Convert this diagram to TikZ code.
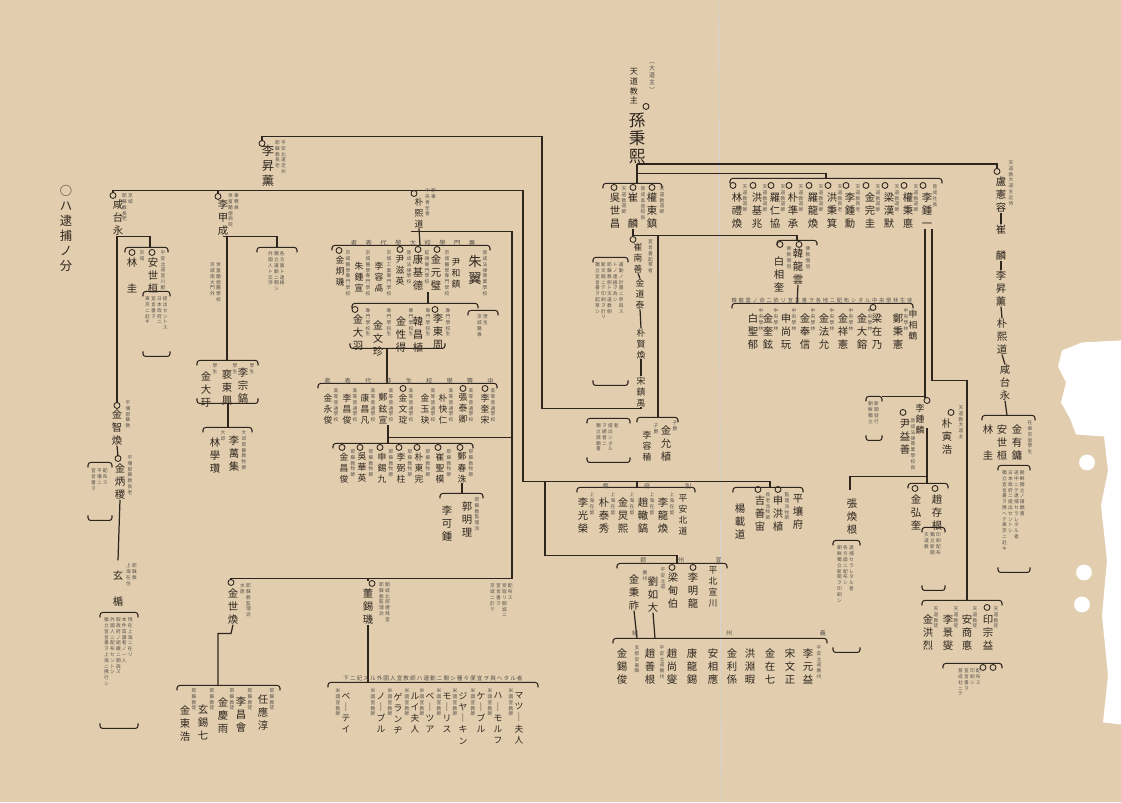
\documentclass[tikz,border=0pt]{standalone}
\usepackage{fontspec}
\setmainfont{Noto Sans CJK JP}
\usetikzlibrary{positioning,calc}
\definecolor{paper}{RGB}{226,206,175}
\definecolor{ink}{RGB}{46,37,30}
\makeatletter
\def\vt@one#1{\hbox to 1em{\hss#1\hss}}
\def\vt@loop#1{\ifx\relax#1\else\vt@one{#1}\expandafter\vt@loop\fi}
\newcommand\vtxt[1]{\edef\vt@l{#1}\vtop{\expandafter\vt@loop\vt@l\relax}}
\newcommand\vcols[1]{\hbox{\foreach \vt@c in {#1}{\vtxt{\vt@c}\hskip.7pt}}}
\def\hs@loop#1{\ifx\relax#1\else#1\hskip\vt@sep\relax\expandafter\hs@loop\fi}
\newcommand\hspread[2]{\edef\vt@l{#2}\def\vt@sep{#1}\expandafter\hs@loop\vt@l\relax}
\makeatother
% group brackets, note brackets and the small rings
\newcommand\grp[3]{\draw[brk] (#1,#3+5) -- (#1,#3) -- (#2,#3) -- (#2,#3+5);}
\newcommand\grpu[3]{\draw[brk] (#1,#3-5) -- (#1,#3) -- (#2,#3) -- (#2,#3-5);}
\newcommand\nbox[4]{\grp{#1}{#3}{#2}\grpu{#1}{#3}{#4}}
\newcommand\mk[2]{\draw[ink,line width=.5pt] (#1,#2) circle[radius=1.7pt];}

\begin{document}
\begin{tikzpicture}[x=0.02cm, y=-0.02cm,
nm/.style={inner sep=0pt, anchor=north, text=ink, font=\fontsize{5.9}{7.4}\selectfont},
sm/.style={nm, font=\fontsize{5}{6.3}\selectfont},
lg/.style={nm, font=\fontsize{7}{8.6}\selectfont},
bg/.style={nm, font=\fontsize{9.4}{10.2}\selectfont},
nt/.style={nm, text=ink!80, font=\fontsize{2.7}{3.3}\selectfont},
wire/.style={draw=ink, line width=0.7pt},
brk/.style={draw=ink, line width=0.6pt, rounded corners=1.5pt}
]
% paper
\fill[paper] (0,0) rectangle (1121,802);
\draw[ink!20, line width=0.5pt] (719,0) -- (721,802);
\fill[white] (1121,340) -- (1082,342) -- (1062,350) -- (1058,366) -- (1066,382) -- (1061,402) -- (1070,418) -- (1076,434) -- (1104,436) -- (1108,470) -- (1101,505) -- (1107,560) -- (1102,615) -- (1108,675) -- (1103,722) -- (1121,724) -- cycle;
\fill[white] (1087,462) circle[radius=4.5pt];
\fill[white] (1084,572) circle[radius=4.5pt];
\fill[white] (1082,604) circle[radius=4.5pt];

% title
\node[lg] (ttl) at (66,184) {\vtxt{○ハ逮捕ノ分}};

% head of the chart
\node[nt, font=\fontsize{3.4}{4}\selectfont] (sonN) at (652,62) {\vtxt{︵大道主︶}};
\node[nm, font=\fontsize{4.6}{5.5}\selectfont] (sonT) at (634,68) {\vtxt{天道教主}};
\mk{646}{106}
\node[bg] (son) at (637,112) {\vtxt{孫秉熙}};
\draw[wire] (son.south) -| (997,169);
\draw[wire] (son.south) -- (637,183);
\draw[wire] (637,173) -| (826,178);
\grp{603}{662}{183}
\grp{730}{942}{178}

% left group under the head
\mk{652}{187} \node[nm] (kdj) at (652,192) {\vtxt{權東鎮}};
\mk{633}{187} \node[nm] (crn) at (633,192) {\vtxt{崔　麟}};
\mk{614}{187} \node[nm] (oss) at (615,192) {\vtxt{吳世昌}};
\node[nt] (kdjN) at (662,186) {\vtxt{天道教道師}};
\node[nt] (crnN) at (643,186) {\vtxt{普成高普校長}};
\node[nt] (ossN) at (624,186) {\vtxt{天道教道師}};

% eleven of the Cheondogyo side
\foreach \x/\n/\t in {737/林禮煥/天道教道師, 757/洪基兆/天道教道師, 775/羅仁協/天道教道師, 793/朴準承/天道教道師, 813/羅龍煥/天道教道師, 832/洪秉箕/天道教長老, 850/李鍾勳/天道教長老, 870/金完圭/天道教道師, 889/梁漢默/天道教道師, 908/權秉悳/天道教道師, 927/李鍾一/普成社長} {
  \mk{\x-4}{185}
  \node[nm] (s\x) at (\x,192) {\vtxt{\n}};
  \node[nt] (sn\x) at (\x+8,184) {\vtxt{\t}};
}
\draw[wire] (925,229) -- (925,398);
\draw[wire] (932,229) -- (932,380) -- (967,380) -- (967,600);

% Buddhist side
\draw[wire] (crn.south) -- (633,235) -- (797,235) -- (797,240);
\draw[wire] (658,235) -- (658,417);
\grp{777}{817}{240}
\mk{780}{244} \node[nm] (bsg) at (779,256) {\vtxt{白相奎}};
\mk{799}{244} \node[nm] (hyw) at (798,248) {\vtxt{韓龍雲}};
\node[nt] (bsgN) at (789,246) {\vtxt{佛教僧侶}};
\node[nt] (hywN) at (808,246) {\vtxt{佛教僧侶}};
\draw[wire] (hyw.south) -- (797,303);
\grp{732}{913}{303}
\node[nt, font=\fontsize{3}{3.4}\selectfont] (budL) at (822,297) {\hspread{1pt}{韓龍雲ノ命ニ依リ宣言書ヲ各地ニ配布シタル中央學林生徒}};
\foreach \x/\n in {753/白聖郁, 768/金奎鉉, 786/申尚玩, 805/金奉信, 824/金法允, 843/金祥憲, 862/金大鎔, 898/鄭秉憲} {
  \node[nm] (b\x) at (\x,313) {\vtxt{\n}};
  \node[nt] (bn\x) at (\x+8,308) {\vtxt{中央學林}};
}
\mk{873}{307} \node[nm] (b876) at (877,313) {\vtxt{梁在乃}};
\node[sm] (b913) at (913,309) {\vtxt{申相鶴}};

% chain on the right edge
\mk{997}{171}
\node[nt] (roN) at (1011,160) {\vtxt{天道教大道主近侍}};
\node[nm] (ro) at (1001,176) {\vtxt{盧憲容}};
\node[nm] (cr2) at (1001,224) {\vtxt{崔　麟}};
\node[nm] (ls2) at (1001,270) {\vtxt{李昇薫}};
\node[nm] (ph2) at (1002,318) {\vtxt{朴熙道}};
\node[nm] (ht2) at (1005,364) {\vtxt{咸台永}};
\draw[wire] (ro.south) -- (cr2.north);
\draw[wire] (cr2.south) -- (ls2.north);
\draw[wire] (ls2.south) -- (ph2.north);
\draw[wire] (ph2.south) -- (ht2.north);
\draw[wire] (ht2.south) -- (1007,415);
\grp{982}{1035}{415}
\node[nm] (rg) at (988,424) {\vtxt{林　圭}};
\node[nm] (ra) at (1002,424) {\vtxt{安世桓}};
\node[nm] (rk) at (1017,424) {\vtxt{金有鏞}};
\node[nt] (rn) at (1030,420) {\vtxt{在東京留學生}};
\nbox{998}{465}{1030}{572}
\node[nt] (rnb) at (1014,470) {\vcols{獨立宣言書ヲ携ヘテ東京ニ赴キ,日本政府ニ提出セントシ,途中ニテ逮捕セラレタル者,朝鮮獨立ノ請願書}};

% Choe Nam-seon chain
\mk{633}{239}
\node[sm] (cns) at (638,242) {\vtxt{崔南善}};
\node[sm] (kdt) at (640,278) {\vtxt{金道泰}};
\node[sm] (phh) at (641,328) {\vtxt{朴賢煥}};
\node[sm] (sjw) at (641,376) {\vtxt{宋鎮禹}};
\draw[wire] (cns.south) -- (kdt.north);
\draw[wire] (kdt.south) -- (phh.north);
\draw[wire] (phh.south) -- (sjw.north);
\node[nt] (cnsN) at (651,239) {\vcols{宣言書起草者}};
\nbox{593}{257}{628}{385}
\node[nt] (cnsB) at (610,262) {\vcols{獨立宣言書ヲ起草シ,新文館ニテ印刷ヲ計リ,耶蘇教側ト天道教側,トノ連絡ヲ為シ,運動ノ計畫ニ參與ス}};

% Yi Seung-hun and the left side
\mk{262}{143}
\node[lg] (lsh) at (268,144) {\vtxt{李昇薰}};
\node[nt] (lshN) at (281,140) {\vcols{耶蘇教長老,平安北道定州}};
\draw[wire] (262,141) -- (262,136) -| (542,408) -| (sjw.south);
\draw[wire] (113,193) -- (113,190) -- (523,190) -- (523,481) -- (770,481) -- (770,487);
\draw[wire] (218,190) -- (218,194);

\mk{113}{195}
\node[nm] (htl) at (118,199) {\vtxt{咸台永}};
\node[nt] (htlN) at (128,193) {\vcols{耶蘇教長老,京城}};
\draw[wire] (117,236) -- (117,403);
\draw[wire] (117,236) -- (150,236) -- (150,247);
\grp{125}{168}{247}
\mk{132}{252} \node[nm] (lmk) at (132,257) {\vtxt{林　圭}};
\mk{152}{252} \node[nm] (ash) at (153,257) {\vtxt{安世桓}};
\node[nt] (ashN) at (163,250) {\vtxt{平安北道宣川郡}};
\node[nt] (lmkN) at (142,250) {\vtxt{京城}};
\nbox{143}{291}{170}{356}
\node[nt] (ashB) at (157,296) {\vcols{東京ニ赴キ,宣言書ヲ,日本政府ニ,提出セントス}};

\mk{117}{405} \node[nm] (kjh) at (117,409) {\vtxt{金智煥}};
\node[nt] (kjhN) at (128,400) {\vtxt{平壤耶蘇教}};
\draw[wire] (kjh.south) -- (118,456);
\mk{118}{458} \node[nm] (kbs) at (120,463) {\vtxt{金炳稷}};
\node[nt] (kbsN) at (130,455) {\vtxt{平壤耶蘇教長老}};
\nbox{88}{462}{112}{520}
\node[nt] (kbsB) at (100,468) {\vcols{宣言書ヲ,平壤ニ,配布ス}};
\draw[wire] (kbs.south) -- (118,560);
\node[nm] (hsn) at (118,570) {\vtxt{玄　楯}};
\node[nt] (hsnN) at (132,563) {\vcols{上海在住,耶蘇教}};
\nbox{100}{612}{138}{728}
\node[nt] (hsnB) at (119,617) {\vcols{獨立宣言書ヲ上海ニ携行シ,外國人ニ配布セントシ,假政府ノ組織ニ關與ス,本件首謀者ノ一人,現在上海ニ在リ}};

% Yi Gap-seong
\mk{218}{196} \node[nm] (lgs) at (223,199) {\vtxt{李甲成}};
\node[nt] (lgsN) at (234,193) {\vcols{世富蘭偲病院,事務員}};
\draw[wire] (227,236) -- (227,360);
\draw[wire] (223,236) -- (277,236) -- (277,247);
\grp{257}{297}{247}
\node[nt] (lgsB) at (277,251) {\vcols{外國人ト交渉,獨立運動ニ關シ,各方面ト連絡}};
\node[nt] (lgsC) at (216,262) {\vcols{京城南大門外,世富蘭偲醫學校}};
\grp{197}{258}{360}
\node[nm] (lcs) at (243,367) {\vtxt{李宗鎬}};
\node[nm] (pdh) at (227,369) {\vtxt{裵東興}};
\node[nm] (kdw) at (206,371) {\vtxt{金大玗}};
\node[nt] (lcsN) at (252,363) {\vtxt{學生}};
\node[nt] (pdhN) at (235,363) {\vtxt{學生}};
\node[nt] (kdwN) at (215,363) {\vtxt{學生}};
\grpu{197}{258}{403}
\draw[wire] (228,403) -- (228,427);
\grp{203}{252}{427}
\node[nm] (lmj) at (234,435) {\vtxt{李萬集}};
\node[nm] (lhc) at (215,437) {\vtxt{林學瓚}};
\node[nt] (lmjN) at (244,430) {\vtxt{大邱耶蘇教牧師}};
\node[nt] (lhcN) at (223,430) {\vtxt{大邱}};

% Pak Hui-do and the students
\mk{414}{193} \node[sm] (phd) at (419,197) {\vtxt{朴熙道}};
\node[nt] (phdN) at (431,188) {\vcols{中央青年會,幹事}};
\draw[wire] (phd.south) -- (420,245);
\draw[wire] (411,231) -- (512,231) -- (512,578) -- (231,578) -- (231,580);
\draw[wire] (368,578) -- (368,581);
\grp{332}{490}{245}
\node[nt, font=\fontsize{3.6}{4}\selectfont] (lab1) at (413,239) {\hspread{4.8pt}{者表代學大校學門專}};
\node[nm, font=\fontsize{7.6}{10}\selectfont] (jik) at (475,254) {\vtxt{朱翼}};
\node[sm] (yhj) at (456,258) {\vtxt{尹和鎮}};
\mk{437}{249} \node[nm] (kwb) at (436,254) {\vtxt{金元璧}};
\mk{418}{249} \node[nm] (kgd) at (418,254) {\vtxt{康基德}};
\mk{400}{249} \node[sm] (yjy) at (400,255) {\vtxt{尹滋英}};
\node[sm] (lys) at (379,261) {\vtxt{李容卨}};
\node[sm] (jjs) at (359,261) {\vtxt{朱鍾宣}};
\mk{339}{250} \node[sm] (khg) at (340,255) {\vtxt{金炯璣}};
\foreach \x/\t in {485/普成法律商業學校, 447/京城醫學專門學校, 427/延禧專門學校, 409/普成法律學校, 389/京城工業專門學校, 368/京城醫學專門學校, 348/京城醫學專門學校} {
  \node[nt] (pn\x) at (\x,250) {\vtxt{\t}};
}
% second row of students
\draw[wire] (428,292) -- (428,303);
\grp{352}{478}{303}
\grp{468}{498}{310}
\node[nt] (sr) at (483,314) {\vcols{京城醫專,學生}};
\mk{435}{309} \node[nm] (ldj) at (438,313) {\vtxt{李東周}};
\node[nm] (hcs) at (418,316) {\vtxt{韓昌植}};
\node[nm] (ksd) at (401,316) {\vtxt{金性得}};
\node[nm] (kmj) at (378,320) {\vtxt{金文珍}};
\mk{355}{309} \node[nm] (kdy) at (358,314) {\vtxt{金大羽}};
\foreach \x in {448,428,411,389,368} {
  \node[nt] (qn\x) at (\x,308) {\vtxt{專門學校生}};
}
\grpu{350}{445}{348}
\draw[wire] (387,348) -- (387,383);
\grp{318}{497}{383}
\node[nt, font=\fontsize{3.6}{4}\selectfont] (lab2) at (409,377) {\hspread{8pt}{者表代徒生校學等中}};
\foreach \x/\n in {485/李奎宋, 463/張泰卿, 443/朴快仁, 425/金玉玦, 403/金文琔, 383/鄭鉉宣, 365/康昌凡, 347/李昌俊, 328/金永俊} {
  \node[sm] (h\x) at (\x,393) {\vtxt{\n}};
  \node[nt] (hn\x) at (\x+8,388) {\vtxt{高等普通學校}};
}
\mk{485}{388} \mk{463}{388} \mk{403}{388}
\draw[wire] (388,425) -- (388,443);
\draw[wire] (388,437) -- (512,437);
\grp{333}{473}{443}
\foreach \x/\n in {462/鄭春洙, 440/崔聖模, 419/朴東完, 401/李弼柱, 382/申錫九, 362/吳華英, 344/金昌俊} {
  \mk{\x-2}{447}
  \node[sm] (c\x) at (\x,452) {\vtxt{\n}};
  \node[nt] (cn\x) at (\x+9,449) {\vtxt{耶蘇教牧師}};
}
\draw[wire] (c462.south) -- (462,493);
\grp{440}{483}{493}
\node[nm] (kmr) at (467,501) {\vtxt{郭明理}};
\node[nm] (lgj) at (447,505) {\vtxt{李可鍾}};
\node[nt] (kmrN) at (477,497) {\vtxt{耶蘇教監理派}};

% lower left
\mk{231}{582} \node[nm] (ksh) at (233,588) {\vtxt{金世煥}};
\node[nt] (kshN) at (246,583) {\vcols{水原,耶蘇教監理派}};
\draw[wire] (ksh.south) -- (231,633) -- (218,633) -- (218,685);
\grp{177}{280}{685}
\foreach \x/\n/\y in {263/任應淳/694, 241/李昌會/696, 223/金慶雨/697, 203/玄錫七/704, 185/金東浩/705} {
  \node[nm] (k\x) at (\x,\y) {\vtxt{\n}};
  \node[nt] (kn\x) at (\x+9,688) {\vtxt{耶蘇教徒}};
}
\mk{372}{583} \node[nm] (tsk) at (368,588) {\vtxt{董錫璣}};
\node[nt] (tskN) at (385,582) {\vcols{耶蘇教監理派,開城北部禮拜堂}};
\node[nt] (tskB) at (502,583) {\vcols{京城ニ於テ,宣言書ヲ,受取リ開城ニ,配布ス}};
\draw[wire] (tsk.south) -- (368,682);
\grp{328}{538}{682}
\node[nt, font=\fontsize{3.2}{3.6}\selectfont] (lab3) at (433,675) {\hspread{.6pt}{下ニ記スル外國人宣教師ハ運動ニ關シ種々便宜ヲ與ヘタル者}};
\foreach \x/\n in {519/マツ｜夫人, 498/ハ｜モルフ, 481/ケ｜ブル, 463/ジヤ｜キン, 447/モ｜リス, 430/ベ｜ツア, 415/ルイ夫人, 398/ゲランヂ, 381/ノ｜ブル, 346/ベ｜テイ} {
  \node[sm] (f\x) at (\x,692) {\vtxt{\n}};
  \node[nt] (fn\x) at (\x-8,688) {\vtxt{米國宣教師}};
}

% Kim Yun-sik
\grp{637}{678}{417}
\node[nm] (kys) at (666,425) {\vtxt{金允植}};
\node[sm] (lyj) at (647,430) {\vtxt{李容稙}};
\node[nt] (kysN) at (675,420) {\vtxt{子爵}};
\node[nt] (lyjN) at (656,423) {\vtxt{子爵}};
\nbox{587}{418}{630}{462}
\node[nt] (kysB) at (608,423) {\vcols{獨立請願書,ヲ總督ニ,提出シタル,者}};

% groups on the middle line
\draw[wire] (637,481) -- (637,487);
\grp{577}{695}{487}
\node[nt, font=\fontsize{3.4}{4}\selectfont] (lab4) at (647,483) {\hspread{20pt}{縣府別}};
\node[sm] (m683) at (683,494) {\vtxt{平安北道}};
\foreach \x/\n in {663/李龍煥, 643/趙轍鎬, 623/金炅熙, 604/朴泰秀, 583/李光榮} {
  \node[nm] (m\x) at (\x,497) {\vtxt{\n}};
  \node[nt] (mn\x) at (\x+9,492) {\vtxt{上海在留}};
}
\grp{733}{803}{487}
\node[nm] (m798) at (798,494) {\vtxt{平壤府}};
\mk{778}{489} \node[nm] (shs) at (778,495) {\vtxt{申洪植}};
\mk{758}{489} \node[nm] (kss) at (760,495) {\vtxt{吉善宙}};
\node[nm] (ydb) at (740,503) {\vtxt{楊載道}};
\node[nt] (shsN) at (787,492) {\vtxt{監理派牧師}};
\node[nt] (kssN) at (768,492) {\vtxt{長老派牧師}};

\draw[wire] (545,481) -- (545,555) -- (677,555) -- (677,563);
\grp{617}{727}{563}
\node[nt, font=\fontsize{3.4}{4}\selectfont] (lab5) at (681,557) {\hspread{18pt}{郡州宣}};
\node[sm] (u713) at (713,566) {\vtxt{平北宣川}};
\mk{693}{567} \node[nm] (lmr) at (693,572) {\vtxt{李明龍}};
\mk{672}{567} \node[nm] (yjb) at (673,572) {\vtxt{梁甸伯}};
\node[nm] (ryd) at (653,576) {\vtxt{劉如大}};
\node[nm] (kbj) at (634,574) {\vtxt{金秉祚}};
\node[nt] (yjbN) at (663,567) {\vtxt{平安北道}};
\node[nt] (rydN) at (645,570) {\vtxt{義州}};
\draw[wire] (kbj.south) -- (637,638);
\draw[wire] (ryd.south) -- (655,638);
\grp{613}{827}{638}
\node[nt, font=\fontsize{3.4}{4}\selectfont] (lab6) at (729,630) {\hspread{50pt}{組州義}};
\foreach \x/\n in {622/金錫俊, 650/趙善根, 672/趙尚燮, 692/康龍錫, 713/安相應, 732/金利係, 750/洪淵暇, 770/金在七, 790/宋文正, 808/李元益} {
  \node[nm] (w\x) at (\x,648) {\vtxt{\n}};
}
\node[nt] (w637) at (637,645) {\vtxt{支那安東縣}};
\node[nt] (w662) at (662,645) {\vtxt{平安北道義州}};
\node[nt] (w819) at (819,645) {\vtxt{平安北道義州}};

% right middle
\mk{927}{400} \node[sm] (lrn) at (920,403) {\vtxt{李鍾麟}};
\draw[wire] (925,396) -- (882,396);
\nbox{866}{396}{882}{440}
\node[nt] (lrnB) at (874,401) {\vcols{朝鮮獨立,新聞發行}};
\mk{903}{412} \node[nm] (yis) at (905,419) {\vtxt{尹益善}};
\node[nt] (yisN) at (913,418) {\vtxt{普成法律商業學校長}};
\mk{951}{412} \node[nm] (pih) at (947,418) {\vtxt{朴寅浩}};
\node[nt] (pihN) at (961,405) {\vtxt{天道教大道主}};
\draw[wire] (927,428) -- (927,483);
\draw[wire] (927,476) -- (850,476) -- (850,490);
\grp{908}{948}{483}
\mk{915}{488} \node[nm] (khk) at (916,494) {\vtxt{金弘奎}};
\mk{935}{488} \node[nm] (jjg) at (937,494) {\vtxt{趙存根}};
\nbox{922}{527}{945}{590}
\node[nt] (jjgB) at (933,532) {\vcols{天道教,獨立新聞,印刷配布}};
\node[nm] (jhg) at (852,498) {\vtxt{張煥根}};
\nbox{833}{540}{860}{652}
\node[nt] (jhgB) at (846,545) {\vcols{朝鮮獨立新聞ヲ印刷シ,各方面ニ配布シ,逮捕セラレタル者}};

\grp{922}{1002}{600}
\foreach \x/\n in {988/印宗益, 967/安商悳, 948/李景燮, 928/金洪烈} {
  \node[nm] (t\x) at (\x,614) {\vtxt{\n}};
  \node[nt] (tn\x) at (\x+8,606) {\vtxt{天道教徒}};
}
\mk{987}{607}
\grp{943}{1002}{663}
\mk{983}{667} \mk{993}{667}
\node[nt] (tnb) at (970,668) {\vcols{普成社ニテ,宣言書ヲ,印刷シ,配布ス}};
\end{tikzpicture}
\end{document}
